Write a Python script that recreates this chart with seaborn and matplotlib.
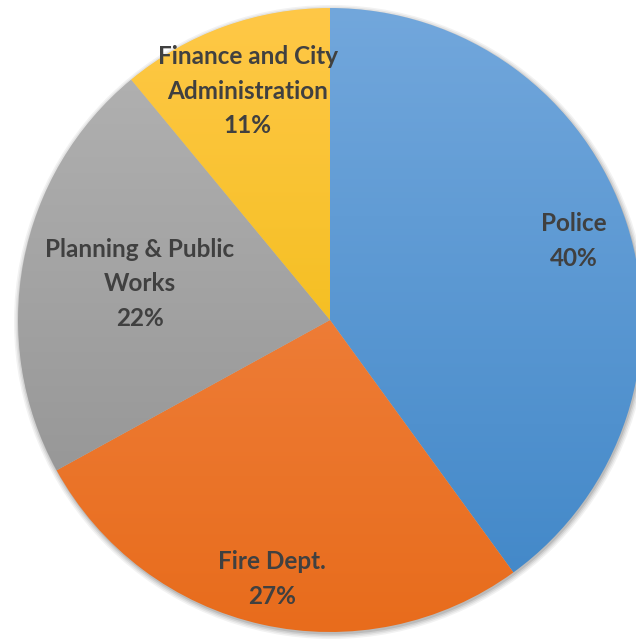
import matplotlib.pyplot as plt
import matplotlib.colors as mcolors
from matplotlib.patches import Circle
import seaborn as sns
import numpy as np

sns.set_theme(style="white")
plt.rcParams['font.family'] = ['Lato', 'DejaVu Sans']

# data
departments = ["Police", "Fire Dept.", "Planning & Public\nWorks", "Finance and City\nAdministration"]
shares = [40, 27, 22, 11]
top_colors = ["#72A7DC", "#F38C50", "#B4B4B4", "#FFC847"]
bottom_colors = ["#3F86C7", "#E86C1C", "#8E8E8E", "#EBB700"]
label_dist = [0.82, 0.85, 0.62, 0.78]

W, H = 636, 639
cx, cy, R = 330, 319, 312

fig = plt.figure(figsize=(W / 100, H / 100), dpi=100)
ax = fig.add_axes([0, 0, 1, 1])

# soft shadow behind the pie
for i, a in enumerate([0.05, 0.06, 0.08, 0.1]):
    ax.add_patch(Circle((cx + 1, cy - 2), R + 5 - i * 1.5, color="black", alpha=a, lw=0, zorder=0))

wedges, _ = ax.pie(shares, startangle=90, counterclock=False, center=(cx, cy), radius=R,
                   wedgeprops=dict(linewidth=0))

grad = np.linspace(0, 1, 256).reshape(-1, 1)
for w, c1, c2, lab, d in zip(wedges, top_colors, bottom_colors, departments, label_dist):
    w.set_facecolor("none")
    cmap = mcolors.LinearSegmentedColormap.from_list("g", [c2, c1])
    im = ax.imshow(grad, cmap=cmap, origin="lower", aspect="auto",
                   extent=[cx - R, cx + R, cy - R, cy + R], zorder=1)
    im.set_clip_path(w)
    ang = np.deg2rad((w.theta1 + w.theta2) / 2)
    pct = (w.theta2 - w.theta1) / 360 * 100
    ax.text(cx + d * R * np.cos(ang), cy + d * R * np.sin(ang), f"{lab}\n{pct:.0f}%",
            ha="center", va="center", fontsize=17.5, fontweight="bold", color="#404040",
            linespacing=1.6, zorder=3)

ax.set_xlim(0, W)
ax.set_ylim(0, H)
ax.set_aspect("equal")
ax.axis("off")

fig.savefig("out.png", dpi=100)
